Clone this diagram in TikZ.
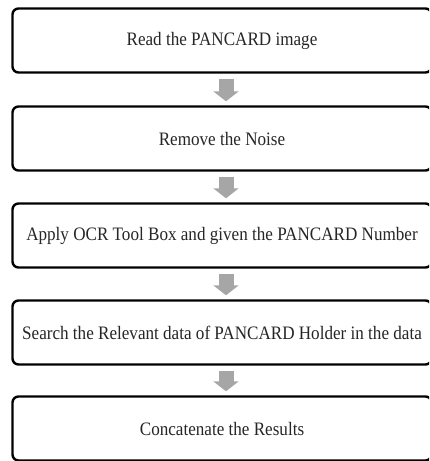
\documentclass[tikz,border=0pt]{standalone}
\usepackage{fontspec}
\setmainfont{Liberation Serif}
\newfontfamily\boxfont[FakeStretch=0.9]{Liberation Serif}
\usetikzlibrary{arrows.meta}
\definecolor{arrowgray}{HTML}{A6A6A6}
\begin{document}
\begin{tikzpicture}[x=1pt,y=-1pt,
  stepbox/.style={draw=black, line width=2.4pt, rounded corners=6pt,
    minimum width=419pt, minimum height=64pt, inner sep=0pt,
    font=\boxfont\fontsize{19}{22}\selectfont, text=black!85},
  blockarrow/.style={draw=arrowgray, line width=15pt,
    -{Triangle[width=25pt,length=10pt]}, shorten <=5pt, shorten >=4pt}]
\useasboundingbox (0,0) rectangle (429,461);
\clip (0,0) rectangle (429,461);
\node[stepbox] (b1) at (222,40.5) {Read the PANCARD image};
\node[stepbox] (b2) at (222,138.5) {Remove the Noise};
\node[stepbox] (b3) at (222,235.5) {Apply OCR Tool Box and given the PANCARD Number};
\node[stepbox] (b4) at (222,332.5) {Search the Relevant data of PANCARD Holder in the data};
\node[stepbox] (b5) at (222,428.5) {Concatenate the Results};
\coordinate (a1s) at ([xshift=4pt]b1.south);
\coordinate (a1e) at ([xshift=4pt]b2.north);
\coordinate (a2s) at ([xshift=4pt]b2.south);
\coordinate (a2e) at ([xshift=4pt]b3.north);
\coordinate (a3s) at ([xshift=4pt]b3.south);
\coordinate (a3e) at ([xshift=4pt]b4.north);
\coordinate (a4s) at ([xshift=4pt]b4.south);
\coordinate (a4e) at ([xshift=4pt]b5.north);
\draw[blockarrow] (a1s) -- (a1e);
\draw[blockarrow] (a2s) -- (a2e);
\draw[blockarrow] (a3s) -- (a3e);
\draw[blockarrow] (a4s) -- (a4e);
\end{tikzpicture}
\end{document}
